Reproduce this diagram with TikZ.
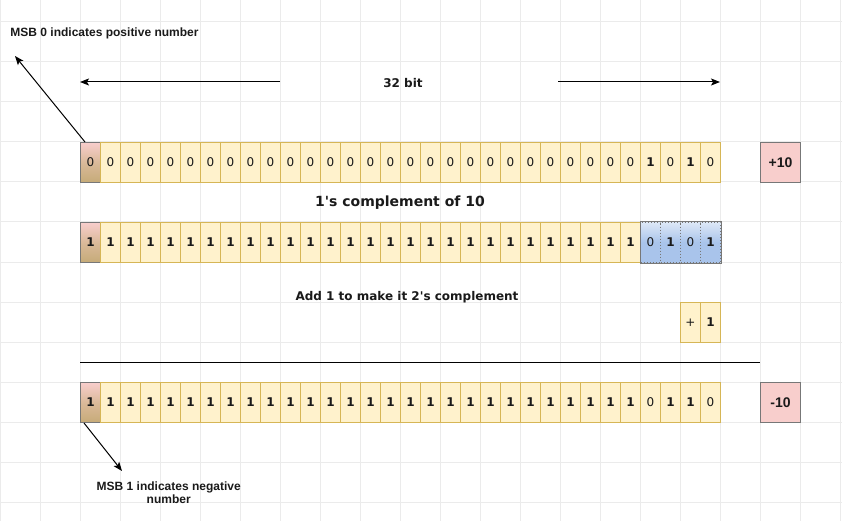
\documentclass[tikz,border=0pt]{standalone}
\usepackage{fontspec}
\setmainfont{DejaVu Sans}
\newfontfamily\arialfont{Liberation Sans}
\usetikzlibrary{arrows.meta}
\definecolor{cellfill}{HTML}{FFF2CC}
\definecolor{cellline}{HTML}{D6B656}
\definecolor{pinkfill}{HTML}{F8CECC}
\definecolor{tanfill}{HTML}{C6AB78}
\definecolor{bluefill}{HTML}{A9C4EB}
\definecolor{boxline}{HTML}{777777}
\definecolor{gridline}{HTML}{EBEBEB}
\definecolor{txt}{HTML}{1A1A1A}
\newcommand\bitval[1]{\ifnum#1=1 \textbf{1}\else 0\fi}
\tikzset{
  bitcell/.style={draw=cellline, fill=cellfill, minimum width=20pt, minimum height=40pt,
    inner sep=0pt, anchor=north west, font=\fontsize{12}{14}\selectfont, text=txt, line width=1pt},
  msbcell/.style={bitcell, draw=boxline, top color=pinkfill, bottom color=tanfill, middle color=tanfill!60!pinkfill},
  bluecell/.style={bitcell, draw=boxline, dotted, top color=white!60!bluefill, bottom color=bluefill, middle color=bluefill},
  valbox/.style={draw=boxline, fill=pinkfill, minimum width=40pt, minimum height=40pt, inner sep=0pt,
    anchor=north west, line width=1pt, text=txt, font=\arialfont\bfseries\fontsize{14}{16}\selectfont},
  lbl/.style={text=txt, inner sep=0pt, font=\bfseries\fontsize{12}{14}\selectfont},
  arlbl/.style={text=txt, inner sep=0pt, align=center, font=\arialfont\bfseries\fontsize{12}{13}\selectfont},
  arr/.style={draw=black, line width=1pt, -{Stealth[length=9pt, width=7pt, inset=2pt]}},
  gridl/.style={draw=gridline, line width=1pt}
}
\begin{document}
\begin{tikzpicture}[x=1pt, y=-1pt]
\useasboundingbox (0,0) rectangle (842,521);
\fill[white] (0,0) rectangle (842,521);
% background grid
\foreach \gx in {0,40,...,840} \draw[gridl] (\gx,0) -- (\gx,521);
\foreach \gy in {22,62,...,502} \draw[gridl] (0,\gy) -- (842,\gy);

% row 1 : +10
\node[msbcell] (r1c1) at (80,142) {0};
\foreach \b [count=\i from 2] in {0,0,0,0,0,0,0,0,0,0,0,0,0,0,0,0,0,0,0,0,0,0,0,0,0,0,0,1,0,1,0}
  \node[bitcell] (r1c\i) at ({80+20*(\i-1)},142) {\bitval{\b}};
\node[valbox] (pos) at (760,142) {+10};

% row 2 : 1's complement
\node[msbcell] (r2c1) at (80,222) {\textbf{1}};
\foreach \b [count=\i from 2] in {1,1,1,1,1,1,1,1,1,1,1,1,1,1,1,1,1,1,1,1,1,1,1,1,1,1,1}
  \node[bitcell] (r2c\i) at ({80+20*(\i-1)},222) {\bitval{\b}};
\foreach \b [count=\i from 29] in {0,1,0,1}
  \node[bluecell] (r2c\i) at ({80+20*(\i-1)},222) {\bitval{\b}};
\draw[boxline, line width=1pt] (r2c29.north west) rectangle (r2c32.south east);

% +1
\node[bitcell] (plus) at (680,302) {+};
\node[bitcell] (one) at (700,302) {\textbf{1}};

% row 3 : -10
\node[msbcell] (r3c1) at (80,382) {\textbf{1}};
\foreach \b [count=\i from 2] in {1,1,1,1,1,1,1,1,1,1,1,1,1,1,1,1,1,1,1,1,1,1,1,1,1,1,1,0,1,1,0}
  \node[bitcell] (r3c\i) at ({80+20*(\i-1)},382) {\bitval{\b}};
\node[valbox] (neg) at (760,382) {-10};

% texts
\node[lbl] (bits) at (403,83) {32 bit};
\node[lbl, font=\bfseries\fontsize{14}{16}\selectfont] (onescomp) at (400,203) {1\textquotesingle s complement of 10};
\node[lbl] (addone) at (407,297) {Add 1 to make it 2\textquotesingle s complement};
\node[arlbl] (msbtop) at (104.5,33) {MSB 0 indicates positive number};
\node[arlbl] (msbbot) at (168.7,492.5) {MSB 1 indicates negative\\number};

% 32 bit arrows
\coordinate (aLs) at (280,82);
\coordinate (aL) at (80,82);
\coordinate (aRs) at (558,82);
\coordinate (aR) at (720,82);
\draw[arr] (aLs) -- (aL);
\draw[arr] (aRs) -- (aR);

% MSB arrows
\coordinate (tipTop) at (15,56);
\coordinate (tipBot) at (122,471);
\draw[arr] ([xshift=5pt]r1c1.north west) -- (tipTop);
\draw[arr] ([xshift=4pt]r3c1.south west) -- (tipBot);

% sum line
\coordinate (lnL) at (80,362);
\coordinate (lnR) at (760,362);
\draw[line width=1pt] (lnL) -- (lnR);
\end{tikzpicture}
\end{document}
